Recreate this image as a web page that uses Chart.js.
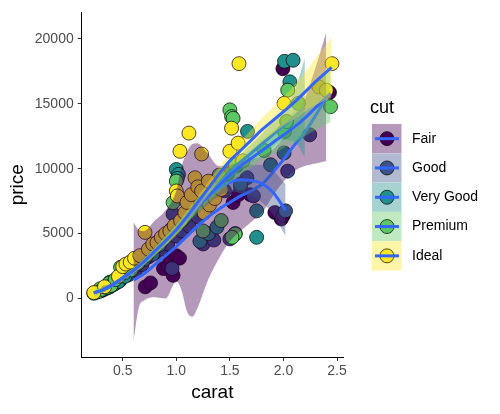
<!DOCTYPE html>
<html>
<head>
<meta charset="utf-8">
<script src="https://cdn.jsdelivr.net/npm/chart.js@4.4.0/dist/chart.umd.min.js"></script>
<style>
  html, body { margin: 0; padding: 0; background: #fff; }
  #wrap { width: 500px; height: 414px; position: relative; }
</style>
</head>
<body>
<div id="wrap"><canvas id="myChart"></canvas></div>
<script>
var cuts = ["Fair", "Good", "Very Good", "Premium", "Ideal"];
var cutColors = ["#440154", "#3B528B", "#21908C", "#5DC863", "#FDE725"];
var bandColors = ["rgba(68,1,84,0.4)", "rgba(59,82,139,0.4)", "rgba(33,144,140,0.4)", "rgba(93,200,99,0.4)", "rgba(253,231,37,0.4)"];

var xTicks = [0.5, 1.0, 1.5, 2.0, 2.5];
var yTicks = [0, 5000, 10000, 15000, 20000];

// points [carat, price] per cut
var fairPts = [[0.71,890],[0.76,1200],[0.88,2300],[0.92,2500],[0.94,3070],[0.97,1780],[1.0,3300],[1.03,3100],[1.53,7390],[1.58,8000],[1.69,8000],[1.92,6620],[1.98,6120],[2.0,6400],[1.995,17700],[2.43,15870]];
var goodPts = [[0.30,600],[0.33,720],[0.38,900],[0.43,1150],[0.47,1350],[0.55,1800],[0.62,2200],[0.68,2600],[0.74,3200],[0.80,3500],[0.86,3800],[0.92,4200],[0.96,2300],[0.97,6500],[1.0,4800],[1.05,5200],[1.12,5600],[1.2,6300],[1.25,4200],[1.28,7400],[1.35,4500],[1.35,7800],[1.45,8300],[1.50,4590],[1.55,5000],[1.6,8600],[1.66,9300],[1.72,7900],[2.02,6750],[2.245,12610],[2.04,9810]];
var vgPts = [[0.25,480],[0.28,560],[0.32,700],[0.36,820],[0.38,1250],[0.41,1050],[0.46,1300],[0.52,1700],[0.56,2300],[0.62,2500],[0.70,3000],[0.78,3400],[0.84,4100],[0.90,4900],[0.95,5300],[1.0,9940],[1.02,9560],[1.01,9250],[1.08,6300],[1.16,7100],[1.22,4400],[1.24,7700],[1.30,5000],[1.32,8600],[1.38,5500],[1.42,8900],[1.48,9600],[1.56,10200],[1.60,8800],[1.665,12870],[1.75,6750],[1.75,4710],[1.88,10300],[2.006,11210],[2.01,18270],[2.09,18350],[2.06,16690]];
var premPts = [[0.23,400],[0.27,520],[0.29,750],[0.31,700],[0.35,850],[0.37,1150],[0.39,1000],[0.43,1450],[0.48,2400],[0.52,2000],[0.58,2200],[0.64,2700],[0.72,3300],[0.80,4000],[0.88,4600],[0.97,7380],[1.0,9040],[1.05,6000],[1.12,6700],[1.2,7600],[1.25,5200],[1.3,8200],[1.4,9500],[1.42,6000],[1.5,14530],[1.516,14010],[1.53,13880],[1.55,10300],[1.55,4970],[1.52,4710],[1.82,11400],[2.01,12870],[2.03,13630],[2.04,16050],[2.14,15030],[2.44,14780]];
var idealPts = [[0.23,450],[0.33,900],[0.46,1700],[0.50,2450],[0.53,2650],[0.57,2800],[0.61,3100],[0.66,3300],[0.708,5090],[0.74,3800],[0.78,4200],[0.82,4300],[0.86,4700],[0.90,5000],[0.94,5200],[0.98,5600],[1.0,8280],[1.01,7900],[1.034,11340],[1.118,12740],[1.04,6000],[1.08,6600],[1.1,7400],[1.14,8000],[1.174,9300],[1.2,8600],[1.236,8280],[1.236,11130],[1.26,6600],[1.30,9040],[1.31,7200],[1.36,7700],[1.42,8400],[1.5,11340],[1.516,13120],[1.577,11970],[1.585,18090],[1.62,10600],[2.006,15030],[2.33,16300],[2.40,16050],[2.453,18090]];

// loess fits with confidence bands
var fairX = [0.6,0.65,0.7,0.8,0.9,1.0,1.05,1.1,1.15,1.2,1.25,1.3,1.4,1.5,1.6,1.7,1.8,1.9,2.0,2.1,2.2,2.3,2.4];
var fairFit = [1400,1650,1900,2600,3300,4000,4400,4800,5200,5600,5950,6300,6900,7400,7900,8300,8800,9700,10700,11800,12800,14100,15500];
var fairHi = [5900,5300,5200,6000,6800,8300,10200,11300,11900,11950,11600,11100,10200,10300,10500,10700,11000,11500,12400,13800,15400,17800,20500];
var fairLo = [-3300,-700,-150,100,0,1300,600,-1000,-1400,-700,400,1500,3100,4400,5200,5900,6600,7900,9000,9800,10200,10400,10600];

var goodX = [0.3,0.4,0.5,0.6,0.7,0.8,0.9,1.0,1.1,1.2,1.3,1.4,1.5,1.6,1.7,1.8,1.9,2.02];
var goodFit = [650,1000,1550,2100,2850,3650,4450,5300,6200,7050,7850,8500,8950,9150,9100,8850,8200,6800];
var goodHi = [950,1180,1750,2350,3150,4000,4850,5750,6650,7550,8400,9100,9700,10100,10300,10300,9900,8800];
var goodLo = [350,820,1350,1850,2550,3300,4050,4850,5750,6550,7300,7900,8200,8200,7900,7400,6500,4800];

var vgX = [0.25,0.3,0.4,0.5,0.6,0.7,0.8,0.9,1.0,1.1,1.2,1.3,1.4,1.5,1.6,1.7,1.8,1.9,2.0,2.1,2.2];
var vgFit = [480,620,1020,1580,2150,2850,3650,4450,5300,6250,7250,8100,8900,9700,10500,11200,11900,12600,13300,14000,14700];
var vgHi = [760,790,1170,1730,2350,3100,3950,4800,5700,6700,7700,8550,9350,10200,11100,11900,12700,13600,14400,15900,18500];
var vgLo = [200,450,870,1430,1950,2600,3350,4100,4900,5800,6800,7650,8450,9200,9900,10500,11100,11600,12200,12100,10900];

var premX = [0.23,0.3,0.4,0.5,0.6,0.7,0.8,0.9,1.0,1.1,1.2,1.3,1.4,1.5,1.6,1.7,1.8,1.9,2.0,2.1,2.2,2.3,2.44];
var premFit = [400,600,1000,1550,2100,2800,3600,4400,5250,6200,7100,7900,8700,9500,10200,10800,11400,12000,12600,13200,13900,14700,15800];
var premHi = [700,780,1150,1700,2300,3050,3900,4750,5650,6650,7550,8350,9200,10050,10850,11500,12200,12900,13600,14400,15300,16400,18000];
var premLo = [100,420,850,1400,1900,2550,3300,4050,4850,5750,6650,7450,8200,8950,9550,10100,10600,11100,11600,12000,12500,13000,13600];

var idealX = [0.23,0.3,0.4,0.5,0.6,0.7,0.8,0.9,1.0,1.1,1.2,1.3,1.4,1.5,1.6,1.7,1.8,1.9,2.0,2.1,2.2,2.3,2.45];
var idealFit = [450,620,1050,1600,2150,2850,3650,4450,5300,6300,7400,8500,9600,10600,11400,12200,13000,13700,14400,15100,15900,16700,17800];
var idealHi = [750,790,1200,1750,2350,3100,3950,4800,5700,6750,7850,9000,10150,11200,12100,13000,13900,14700,15500,16400,17400,18500,20100];
var idealLo = [150,450,900,1450,1950,2600,3350,4100,4900,5850,6950,8000,9050,10000,10700,11400,12100,12700,13300,13800,14400,14900,15500];

var allPts = [fairPts, goodPts, vgPts, premPts, idealPts];
var smooths = [
  [fairX, fairFit, fairLo, fairHi],
  [goodX, goodFit, goodLo, goodHi],
  [vgX, vgFit, vgLo, vgHi],
  [premX, premFit, premLo, premHi],
  [idealX, idealFit, idealLo, idealHi],
];

var FONT = "'Liberation Sans', Arial, sans-serif";

function toXY(xs, ys) {
  return xs.map(function (x, i) { return { x: x, y: ys[i] }; });
}

var datasets = [];
// points first (highest order = drawn first)
allPts.forEach(function (pts, i) {
  datasets.push({
    type: "scatter",
    label: cuts[i],
    data: pts.map(function (p) { return { x: p[0], y: p[1] }; }),
    backgroundColor: cutColors[i],
    borderColor: "#000000",
    borderWidth: 0.7,
    pointRadius: 7,
    order: 100 - i,
  });
});
// ribbon then line per group
smooths.forEach(function (s, i) {
  var base = 50 - i * 3;
  datasets.push({
    type: "line",
    data: toXY(s[0], s[3]),
    borderWidth: 0,
    pointRadius: 0,
    backgroundColor: bandColors[i],
    fill: "+1",
    cubicInterpolationMode: "monotone",
    order: base,
  });
  datasets.push({
    type: "line",
    data: toXY(s[0], s[2]),
    borderWidth: 0,
    pointRadius: 0,
    fill: false,
    cubicInterpolationMode: "monotone",
    order: base,
  });
  datasets.push({
    type: "line",
    data: toXY(s[0], s[1]),
    borderColor: "#3366FF",
    borderWidth: 3,
    pointRadius: 0,
    fill: false,
    cubicInterpolationMode: "monotone",
    order: base - 1,
  });
});

// ggplot style legend on the right
var cutLegend = {
  id: "cutLegend",
  afterDraw: function (chart) {
    var c = chart.ctx;
    c.save();
    c.fillStyle = "#000";
    c.font = "18px " + FONT;
    c.textBaseline = "alphabetic";
    c.fillText("cut", 370, 113);
    var top = 124, h = 29.3;
    cuts.forEach(function (name, i) {
      var y = top + i * h;
      c.fillStyle = "#fff";
      c.fillRect(372, y, 29.5, h);
      c.fillStyle = bandColors[i];
      c.fillRect(372, y, 29.5, h);
      var cy = y + h / 2;
      c.beginPath();
      c.arc(387, cy, 7, 0, Math.PI * 2);
      c.fillStyle = cutColors[i];
      c.fill();
      c.lineWidth = 0.7;
      c.strokeStyle = "#000";
      c.stroke();
      c.beginPath();
      c.moveTo(375, cy);
      c.lineTo(399, cy);
      c.lineWidth = 3;
      c.strokeStyle = "#3366FF";
      c.stroke();
      c.fillStyle = "#000";
      c.font = "14px " + FONT;
      c.textBaseline = "middle";
      c.fillText(name, 412, cy);
    });
    c.restore();
  },
};

var ctx = document.getElementById("myChart").getContext("2d");
var myChart = new Chart(ctx, {
  type: "scatter",
  data: { datasets: datasets },
  plugins: [cutLegend],
  options: {
    responsive: true,
    maintainAspectRatio: false,
    animation: false,
    layout: { padding: { left: 0, right: 157, top: 10, bottom: 0 } },
    plugins: {
      legend: { display: false },
      tooltip: { enabled: false },
    },
    scales: {
      x: {
        type: "linear",
        min: 0.117,
        max: 2.556,
        afterBuildTicks: function (s) {
          s.ticks = xTicks.map(function (v) { return { value: v }; });
        },
        afterFit: function (s) { s.height = 57; },
        grid: { drawOnChartArea: false, drawTicks: true, tickLength: 4, color: "#333" },
        border: { display: true, color: "#000", width: 1 },
        ticks: {
          color: "#4D4D4D",
          padding: 2,
          font: { family: FONT, size: 14 },
          callback: function (v) { return v.toFixed(1); },
        },
        title: {
          display: true,
          text: "carat",
          color: "#000",
          padding: { top: 0, bottom: 9.6 },
          font: { family: FONT, size: 19 },
        },
      },
      y: {
        type: "linear",
        min: -4510,
        max: 22040,
        afterBuildTicks: function (s) {
          s.ticks = yTicks.map(function (v) { return { value: v }; });
        },
        afterFit: function (s) { s.width = 81.7; },
        grid: { drawOnChartArea: false, drawTicks: true, tickLength: 4, color: "#333" },
        border: { display: true, color: "#000", width: 1 },
        ticks: {
          color: "#4D4D4D",
          padding: 4,
          font: { family: FONT, size: 14 },
          callback: function (v) { return String(v); },
        },
        title: {
          display: true,
          text: "price",
          color: "#000",
          padding: { top: 6.6, bottom: 0 },
          font: { family: FONT, size: 19 },
        },
      },
    },
  },
});
</script>
</body>
</html>
